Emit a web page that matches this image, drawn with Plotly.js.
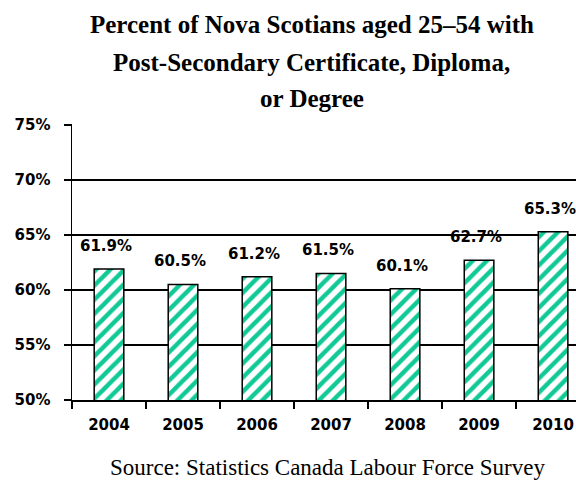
<!DOCTYPE html>
<html><head><meta charset="utf-8">
<script src="https://cdn.plot.ly/plotly-3.0.1.min.js"></script>
<style>html,body{margin:0;padding:0;background:#fff}#chart{width:576px;height:486px}</style>
</head><body><div id="chart"></div>
<script>
const years = ['2004','2005','2006','2007','2008','2009','2010'];
const values = [61.9, 60.5, 61.2, 61.5, 60.1, 62.7, 65.3];
const valueLabels = ['61.9%','60.5%','61.2%','61.5%','60.1%','62.7%','65.3%'];
const yTicks = [50, 55, 60, 65, 70, 75];
const yTickLabels = ['50%','55%','60%','65%','70%','75%'];
const titleLines = ['Percent of Nova Scotians aged 25–54 with', 'Post-Secondary Certificate, Diploma,', 'or Degree'];
const sourceText = 'Source: Statistics Canada Labour Force Survey';

const tickFont = {family: 'DejaVu Sans, sans-serif', size: 15, color: '#000', weight: 'bold'};

const trace = {
  type: 'bar', x: years, y: values,
  marker: {
    color: '#ffffff',
    line: {color: '#000', width: 1.5},
    pattern: {shape: '/', fgcolor: '#10c996', bgcolor: '#ffffff', size: 10, solidity: 0.45, fillmode: 'replace'}
  },
  hoverinfo: 'none'
};

const annotations = values.map((v, i) => ({
  xref: 'x', yref: 'y', x: i, y: v, text: '<b>' + valueLabels[i] + '</b>',
  showarrow: false, yshift: 23, xshift: -3,
  font: {family: 'DejaVu Sans, sans-serif', size: 15, color: '#000'}
}));
const titleShifts = [100, 62, 26];
titleLines.forEach((t, i) => annotations.push({
  xref: 'paper', yref: 'paper', x: 0.476, y: 1, yshift: titleShifts[i], yanchor: 'middle',
  text: '<b>' + t + '</b>', showarrow: false,
  font: {family: 'Liberation Serif, serif', size: 25, color: '#000'}
}));
annotations.push({
  xref: 'paper', yref: 'paper', x: 0.506, y: 0, yshift: -82,
  text: sourceText, showarrow: false,
  font: {family: 'Liberation Serif, serif', size: 23, color: '#000'}
});

const layout = {
  width: 576, height: 486,
  margin: {l: 72, r: 0, t: 124, b: 86},
  paper_bgcolor: '#fff', plot_bgcolor: '#fff',
  showlegend: false, bargap: 0.6,
  xaxis: {
    type: 'category', range: [-0.5, 6.31], tickson: 'boundaries',
    ticks: 'outside', ticklen: 7, tickwidth: 1.5, tickcolor: '#000',
    showline: true, linecolor: '#000', linewidth: 1.5, ticklabelstandoff: 10,
    showgrid: false, tickfont: tickFont, fixedrange: true
  },
  yaxis: {
    range: [50, 75.08], tickvals: yTicks, ticktext: yTickLabels,
    ticks: 'outside', ticklen: 7, tickwidth: 1.5, tickcolor: '#000',
    showline: true, linecolor: '#000', linewidth: 1.5, ticklabelstandoff: 10,
    showgrid: true, gridcolor: '#000', gridwidth: 1.5,
    zeroline: false, tickfont: tickFont, fixedrange: true
  },
  annotations: annotations
};

Plotly.newPlot('chart', [trace], layout, {staticPlot: true});
</script></body></html>
